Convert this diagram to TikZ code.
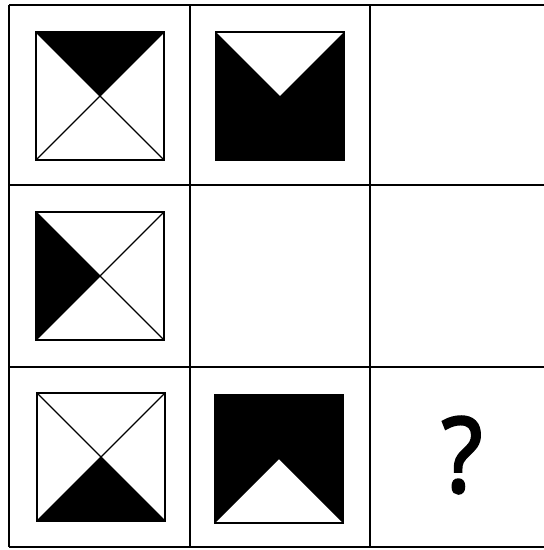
\documentclass[tikz,border=0pt]{standalone}
\usepackage{fontspec}
\newfontfamily\qfont[FakeBold=2.6,FakeStretch=0.9]{Open Sans}
\usetikzlibrary{calc,positioning}

\begin{document}
\begin{tikzpicture}[x=0.25mm,y=-0.25mm,
  gridline/.style={line width=0.6mm},
  fig/.style={line width=0.35mm},
  cross/.style={line width=0.3mm}]
\useasboundingbox (0,0) rectangle (544,550);
% cell centres
\coordinate (A1) at (100,96);
\coordinate (A2) at (280,96);
\coordinate (B1) at (100,276);
\coordinate (C1) at (101,457);
\coordinate (C2) at (279,459);
\coordinate (C3) at (462,455);
% grid, open on the right
\draw[gridline] (9,5) -- (544,5);
\draw[gridline] (9,185) -- (544,185);
\draw[gridline] (9,367) -- (544,367);
\draw[gridline] (9,547) -- (544,547);
\draw[gridline] (9,5) -- (9,547);
\draw[gridline] (190,5) -- (190,547);
\draw[gridline] (370,5) -- (370,547);
% row 1
\fill (A1)+(-64,-64) -- +(64,-64) -- +(0,0) -- cycle;
\draw[cross] (A1)+(-64,-64) -- +(64,64) (A1)+(64,-64) -- +(-64,64);
\draw[fig] (A1)+(-64,-64) rectangle +(64,64);
\fill (A2)+(-64,-64) -- +(0,0) -- +(64,-64) -- +(64,64) -- +(-64,64) -- cycle;
\draw[fig] (A2)+(-64,-64) rectangle +(64,64);
% row 2
\fill (B1)+(-64,-64) -- +(0,0) -- +(-64,64) -- cycle;
\draw[cross] (B1)+(-64,-64) -- +(64,64) (B1)+(64,-64) -- +(-64,64);
\draw[fig] (B1)+(-64,-64) rectangle +(64,64);
% row 3
\fill (C1)+(-64,64) -- +(0,0) -- +(64,64) -- cycle;
\draw[cross] (C1)+(-64,-64) -- +(64,64) (C1)+(64,-64) -- +(-64,64);
\draw[fig] (C1)+(-64,-64) rectangle +(64,64);
\fill (C2)+(-64,-64) -- +(64,-64) -- +(64,64) -- +(0,0) -- +(-64,64) -- cycle;
\draw[fig] (C2)+(-64,-64) rectangle +(64,64);
\node[inner sep=0pt] (qmark) at (C3) {\qfont\fontsize{74}{74}\selectfont ?};
\end{tikzpicture}
\end{document}
